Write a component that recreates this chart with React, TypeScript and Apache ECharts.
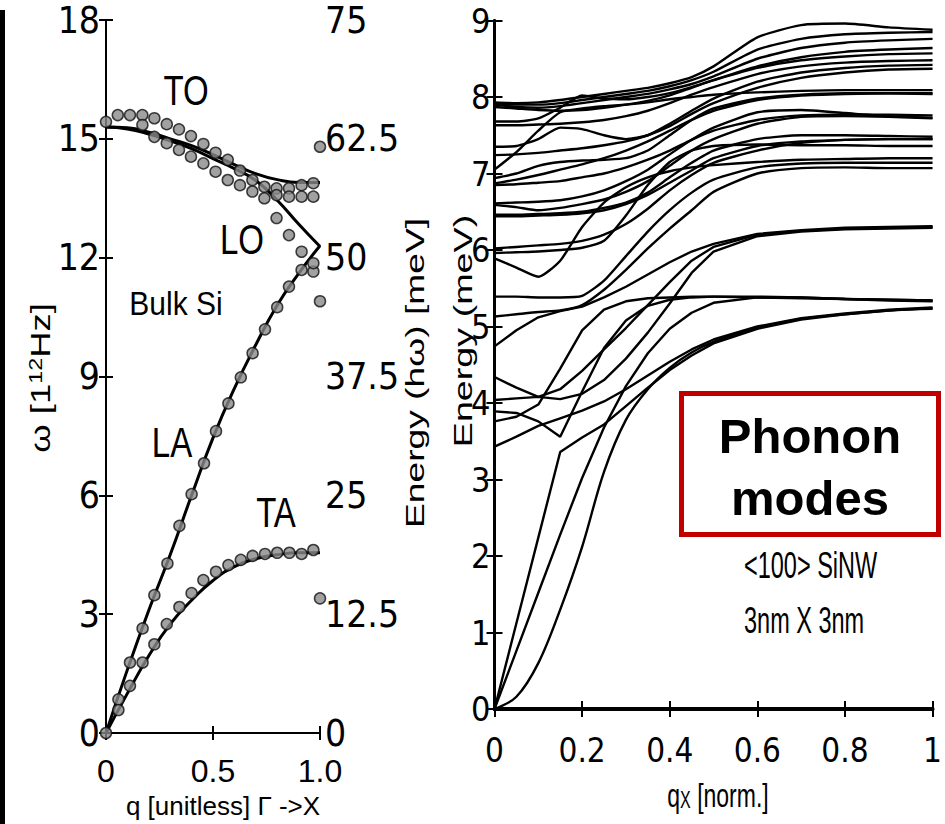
import React, { useEffect, useRef } from 'react';
import * as echarts from 'echarts';

// ---------- Left panel: bulk Si dispersion (THz) ----------
const bulkQ = [0, 0.1, 0.2, 0.3, 0.4, 0.5, 0.6, 0.7, 0.8, 0.9, 1.0];
const toLine = [15.3, 15.28, 15.17, 15.0, 14.83, 14.6, 14.35, 14.12, 13.97, 13.9, 13.9];
const loLine = [15.3, 15.25, 15.12, 14.95, 14.75, 14.5, 14.25, 13.95, 13.45, 12.85, 12.28];
const laLine = [0, 1.6, 3.1, 4.5, 6.0, 7.45, 8.7, 9.8, 10.8, 11.6, 12.3];
const taLine = [0, 1.0, 1.95, 2.75, 3.35, 3.85, 4.2, 4.4, 4.5, 4.55, 4.55];

const dotQ = [0, 0.055, 0.112, 0.17, 0.226, 0.284, 0.341, 0.397, 0.455, 0.512, 0.569, 0.626, 0.684, 0.74, 0.797, 0.855, 0.914, 0.969];
const toUpperDots = [15.43, 15.6, 15.6, 15.6, 15.52, 15.37, 15.24, 15.07, 14.87, 14.65, 14.47, 14.2, 13.96, 13.79, 13.75, 13.75, 13.83, 13.88];
const toLowerQ = [0.17, 0.226, 0.284, 0.341, 0.397, 0.455, 0.512, 0.569, 0.626, 0.684, 0.797, 0.855, 0.914, 0.969];
const toLowerDots = [15.35, 15.05, 14.89, 14.72, 14.55, 14.38, 14.17, 13.96, 13.83, 13.67, 13.58, 13.54, 13.54, 13.54];
const loTailQ = [0.74, 0.797, 0.855, 0.914, 0.969];
const loTailDots = [13.5, 13.0, 12.57, 12.15, 11.65];
const laDotQ = [0, 0.058, 0.112, 0.171, 0.226, 0.287, 0.343, 0.4, 0.458, 0.514, 0.572, 0.63, 0.685, 0.743, 0.8, 0.855, 0.914, 0.969];
const laDots = [0, 0.85, 1.78, 2.64, 3.48, 4.28, 5.23, 6.03, 6.81, 7.62, 8.32, 8.98, 9.59, 10.19, 10.75, 11.27, 11.69, 11.86];
const taDotQ = [0.058, 0.112, 0.171, 0.226, 0.284, 0.343, 0.4, 0.455, 0.514, 0.572, 0.63, 0.685, 0.743, 0.8, 0.857, 0.914, 0.969];
const taDots = [0.58, 1.19, 1.78, 2.24, 2.75, 3.18, 3.53, 3.86, 4.07, 4.24, 4.37, 4.47, 4.52, 4.55, 4.55, 4.52, 4.62];
const edgeDots = [14.8, 10.9, 3.4];

const leftXLabels = ['0', '0.5', '1.0'];

// ---------- Right panel: <100> SiNW phonon modes (meV) ----------
const qx = [0, 0.05, 0.1, 0.15, 0.2, 0.25, 0.3, 0.35, 0.4, 0.45, 0.5, 0.6, 0.7, 0.8, 0.9, 1.0];

const linearAcoustic = [
  [0, 1.12, 2.24, 3.36, 3.55, 3.72, 3.96, 4.2, 4.43, 4.62, 4.78, 4.97, 5.09, 5.16, 5.21, 5.24],
  [0, 0.76, 1.52, 2.28, 3.02, 3.68, 4.22, 4.65, 4.97, 5.18, 5.31, 5.38, 5.38, 5.36, 5.34, 5.33],
];
const flexuralMode = [0, 0.16, 0.6, 1.3, 2.12, 3.1, 3.78, 4.18, 4.46, 4.66, 4.8, 4.98, 5.1, 5.16, 5.21, 5.23];

const lowModes = [
  [3.43, 3.56, 3.7, 3.8, 3.9, 4.02, 4.18, 4.36, 4.54, 4.7, 4.83, 5.0, 5.11, 5.17, 5.22, 5.25],
  [3.76, 3.82, 3.98, 4.45, 4.95, 5.22, 5.33, 5.37, 5.38, 5.39, 5.39, 5.38, 5.37, 5.36, 5.35, 5.34],
  [3.89, 3.87, 3.76, 3.56, 4.15, 4.72, 5.08, 5.27, 5.35, 5.38, 5.39, 5.39, 5.38, 5.36, 5.35, 5.34],
  [4.04, 4.06, 4.08, 4.05, 4.12, 4.3, 4.58, 4.92, 5.3, 5.7, 5.98, 6.18, 6.24, 6.27, 6.28, 6.29],
  [4.34, 4.2, 4.08, 4.18, 4.42, 4.7, 4.98, 5.28, 5.58, 5.86, 6.04, 6.2, 6.25, 6.28, 6.29, 6.3],
  [4.74, 4.95, 5.12, 5.2, 5.26, 5.38, 5.52, 5.68, 5.84, 5.98, 6.08, 6.21, 6.26, 6.29, 6.3, 6.31],
];

const midModes = [
  [5.13, 5.16, 5.19, 5.21, 5.28, 5.48, 5.74, 6.02, 6.28, 6.52, 6.76, 7.0, 7.07, 7.08, 7.07, 7.07],
  [5.39, 5.39, 5.38, 5.38, 5.4, 5.6, 5.92, 6.24, 6.52, 6.75, 6.92, 7.08, 7.13, 7.14, 7.14, 7.14],
  [5.89, 5.77, 5.65, 5.86, 6.3, 6.62, 6.82, 6.95, 7.03, 7.08, 7.11, 7.15, 7.18, 7.19, 7.2, 7.2],
  [5.96, 5.97, 5.98, 6.0, 6.03, 6.12, 6.45, 6.85, 7.15, 7.3, 7.36, 7.38, 7.37, 7.37, 7.36, 7.36],
  [6.02, 6.04, 6.06, 6.08, 6.12, 6.2, 6.34, 6.54, 6.78, 6.98, 7.14, 7.3, 7.4, 7.44, 7.45, 7.45],
  [6.44, 6.44, 6.45, 6.46, 6.48, 6.52, 6.6, 6.72, 6.88, 7.04, 7.2, 7.36, 7.42, 7.44, 7.45, 7.45],
];

const highModes = [
  [6.46, 6.46, 6.47, 6.48, 6.5, 6.55, 6.62, 6.75, 6.95, 7.14, 7.3, 7.45, 7.5, 7.5, 7.49, 7.48],
  [6.59, 6.56, 6.52, 6.55, 6.6, 6.66, 6.76, 6.9, 7.1, 7.3, 7.45, 7.65, 7.74, 7.75, 7.74, 7.72],
  [6.61, 6.62, 6.63, 6.65, 6.7, 6.78, 6.9, 7.05, 7.25, 7.44, 7.6, 7.8, 7.83, 7.79, 7.75, 7.73],
  [6.85, 6.86, 6.88, 6.9, 6.95, 7.0, 7.08, 7.18, 7.3, 7.44, 7.56, 7.7, 7.76, 7.77, 7.77, 7.76],
  [6.87, 6.92, 6.98, 7.05, 7.12, 7.2, 7.3, 7.42, 7.56, 7.7, 7.82, 7.96, 8.02, 8.04, 8.05, 8.04],
  [6.94, 7.0, 7.1, 7.15, 7.17, 7.18, 7.2, 7.3, 7.5, 7.7, 7.85, 7.98, 8.03, 8.05, 8.05, 8.05],
  [7.05, 7.28, 7.56, 7.8, 7.85, 7.88, 7.9, 7.93, 7.97, 8.0, 8.03, 8.06, 8.08, 8.09, 8.09, 8.09],
  [7.24, 7.25, 7.27, 7.3, 7.33, 7.37, 7.42, 7.5, 7.62, 7.78, 7.92, 8.12, 8.25, 8.32, 8.36, 8.37],
  [7.35, 7.36, 7.45, 7.6, 7.58, 7.5, 7.45, 7.5, 7.65, 7.82, 7.98, 8.2, 8.32, 8.38, 8.41, 8.42],
  [7.63, 7.63, 7.64, 7.65, 7.67, 7.7, 7.75, 7.82, 7.92, 8.03, 8.13, 8.3, 8.4, 8.45, 8.47, 8.48],
  [7.68, 7.68, 7.72, 7.86, 8.02, 7.98, 7.97, 8.0, 8.05, 8.13, 8.22, 8.38, 8.48, 8.53, 8.56, 8.57],
  [7.87, 7.85, 7.83, 7.82, 7.83, 7.86, 7.9, 7.95, 8.02, 8.12, 8.22, 8.4, 8.52, 8.59, 8.62, 8.64],
  [7.9, 7.87, 7.86, 7.88, 7.92, 7.96, 8.0, 8.04, 8.1, 8.17, 8.27, 8.5, 8.64, 8.71, 8.74, 8.76],
  [7.92, 7.9, 7.9, 7.92, 7.96, 8.0, 8.04, 8.08, 8.14, 8.22, 8.33, 8.62, 8.76, 8.82, 8.84, 8.85],
  [7.93, 7.92, 7.93, 7.96, 8.0, 8.04, 8.08, 8.12, 8.18, 8.26, 8.4, 8.78, 8.94, 8.96, 8.91, 8.88],
];

const SANS = "'Liberation Sans', Arial, Helvetica, sans-serif";
const NARROW = "'Liberation Sans Narrow', 'DejaVu Sans Condensed', 'Liberation Sans', Arial, sans-serif";

const zip = (xs: number[], ys: number[]) => xs.map((x, i) => [x, ys[i]]);

function txt(text: string, x: number, y: number, size: number, opts: any = {}) {
  return {
    type: 'text',
    x,
    y,
    rotation: opts.rotation || 0,
    scaleX: opts.scaleX || 1,
    scaleY: opts.scaleY || 1,
    z: 10,
    silent: true,
    style: {
      text,
      fill: opts.fill || '#000',
      fontSize: size,
      fontFamily: opts.family || SANS,
      fontWeight: opts.weight || 'normal',
      align: opts.align || 'center',
      textAlign: opts.align || 'center',
      verticalAlign: opts.valign || 'middle',
      textVerticalAlign: opts.valign || 'middle',
      rich: opts.rich,
    },
  };
}

export default function App() {
  const ref = useRef<HTMLDivElement>(null);

  useEffect(() => {
    if (!ref.current) return;
    const chart = echarts.init(ref.current, null, { renderer: 'svg' });

    const dotStyle = { color: '#8a8a8a', borderColor: '#111', borderWidth: 1.5 };
    const bulkLine = (ys: number[]) => ({
      type: 'line', xAxisIndex: 0, yAxisIndex: 0, data: zip(bulkQ, ys),
      showSymbol: false, symbol: 'none', smooth: true, silent: true, z: 2,
      lineStyle: { color: '#000', width: 3 },
    });
    const bulkDots = (xs: number[], ys: number[]) => ({
      type: 'scatter', xAxisIndex: 0, yAxisIndex: 0, data: zip(xs, ys),
      symbol: 'circle', symbolSize: 11, itemStyle: dotStyle, silent: true, z: 3, clip: false,
    });

    const modeLine = (ys: number[], smooth: number | boolean) => ({
      type: 'line', xAxisIndex: 2, yAxisIndex: 2, data: zip(qx, ys),
      showSymbol: false, symbol: 'none', smooth, silent: true, z: 2,
      lineStyle: { color: '#000', width: 2.4 },
    });
    const modeSeries = [
      ...linearAcoustic.map((ys) => modeLine(ys, false)),
      modeLine(flexuralMode, 0.35),
      ...lowModes.map((ys) => modeLine(ys, false)),
      ...midModes.map((ys) => modeLine(ys, 0.2)),
      ...highModes.map((ys) => modeLine(ys, 0.2)),
    ];

    const axisLineL = { show: true, lineStyle: { color: '#000', width: 2 } };
    const axisLineR = { show: true, lineStyle: { color: '#000', width: 3 } };
    const tickL = { show: true, inside: true, length: 7, lineStyle: { color: '#000', width: 2 } };
    const tickR = { show: true, inside: true, length: 8, lineStyle: { color: '#000', width: 2 } };

    chart.setOption({
      animation: false,
      backgroundColor: '#fff',
      grid: [
        { left: 106, top: 20, width: 214, height: 713 },
        { left: 494.5, top: 20.5, width: 447, height: 688.5 },
      ],
      xAxis: [
        {
          gridIndex: 0, type: 'value', min: 0, max: 1, interval: 0.5, position: 'bottom',
          axisLine: axisLineL, axisTick: tickL, splitLine: { show: false },
          axisLabel: {
            color: '#000', fontSize: 32, fontFamily: SANS, margin: 22,
            formatter: (v: number) => leftXLabels[Math.round(v / 0.5)],
          },
        },
        {
          gridIndex: 0, type: 'value', min: 0, max: 1, interval: 0.5, position: 'top',
          axisLine: axisLineL, axisTick: tickL, splitLine: { show: false }, axisLabel: { show: false },
        },
        {
          gridIndex: 1, type: 'value', min: 0, max: 1, interval: 0.2, position: 'bottom',
          axisLine: { show: true, lineStyle: { color: '#000', width: 4 } }, axisTick: tickR, splitLine: { show: false },
          axisLabel: { color: '#000', fontSize: 33, fontFamily: NARROW, margin: 25 },
        },
        {
          gridIndex: 1, type: 'value', min: 0, max: 1, interval: 0.2, position: 'top',
          axisLine: axisLineR, axisTick: tickR, splitLine: { show: false }, axisLabel: { show: false },
        },
      ],
      yAxis: [
        {
          gridIndex: 0, type: 'value', min: 0, max: 18, interval: 3, position: 'left',
          axisLine: axisLineL, axisTick: tickL, splitLine: { show: false },
          axisLabel: { color: '#000', fontSize: 37, fontFamily: NARROW, margin: 6, padding: [12, 0, 0, 0] },
        },
        {
          gridIndex: 0, type: 'value', min: 0, max: 75, interval: 12.5, position: 'right',
          axisLine: axisLineL, axisTick: tickL, splitLine: { show: false },
          axisLabel: { color: '#000', fontSize: 37, fontFamily: NARROW, margin: 5, padding: [12, 0, 0, 0] },
        },
        {
          gridIndex: 1, type: 'value', min: 0, max: 9, interval: 1, position: 'left',
          axisLine: axisLineR, axisTick: tickR, splitLine: { show: false },
          axisLabel: { color: '#000', fontSize: 34, fontFamily: NARROW, margin: 4, padding: [12, 0, 0, 0] },
        },
        {
          gridIndex: 1, type: 'value', min: 0, max: 9, interval: 1, position: 'right',
          axisLine: axisLineR, axisTick: tickR, splitLine: { show: false }, axisLabel: { show: false },
        },
      ],
      series: [
        bulkLine(toLine),
        bulkLine(loLine),
        bulkLine(laLine),
        bulkLine(taLine),
        bulkDots(dotQ, toUpperDots),
        bulkDots(toLowerQ, toLowerDots),
        bulkDots(loTailQ, loTailDots),
        bulkDots(laDotQ, laDots),
        bulkDots(taDotQ, taDots),
        bulkDots(edgeDots.map(() => 1), edgeDots),
        ...modeSeries,
      ],
      graphic: [
        { type: 'rect', shape: { x: 0, y: 10, width: 5, height: 814 }, style: { fill: '#000' }, silent: true },
        txt('TO', 186, 91, 33, { scaleY: 1.28 }),
        txt('LO', 242, 240, 33, { scaleY: 1.28 }),
        txt('Bulk Si', 176, 303, 30, { scaleY: 1.1 }),
        txt('LA', 172, 443, 33, { scaleY: 1.28 }),
        txt('TA', 276, 513, 33, { scaleY: 1.28 }),
        txt('{a|ω [1}{b|12}{a|Hz]}', 41, 378, 28, {
          rotation: Math.PI / 2, scaleX: 1.3,
          rich: {
            a: { fontSize: 28, fontFamily: SANS, fill: '#000' },
            b: { fontSize: 18, fontFamily: SANS, fill: '#000', verticalAlign: 'top' },
          },
        }),
        txt('q [unitless] Γ ->X', 223, 793, 26, { valign: 'top' }),
        txt('Energy (hω) [meV]', 415, 373, 26, { rotation: Math.PI / 2, scaleX: 1.43 }),
        txt('Energy (meV)', 463, 331, 26, { rotation: Math.PI / 2, scaleX: 1.45 }),
        txt('{a|q}{b|X}{a| [norm.]}', 718, 795, 23, {
          scaleY: 1.45,
          rich: {
            a: { fontSize: 23, fontFamily: SANS, fill: '#000' },
            b: { fontSize: 16, fontFamily: SANS, fill: '#000', verticalAlign: 'bottom' },
          },
        }),
        txt('<100> SiNW', 744, 565, 23.5, { align: 'left', scaleY: 1.55 }),
        txt('3nm X 3nm', 744, 620, 23.5, { align: 'left', scaleY: 1.55 }),
        {
          type: 'rect', z: 10, silent: true,
          shape: { x: 681.5, y: 393.5, width: 257, height: 141 },
          style: { fill: 'transparent', stroke: '#c00000', lineWidth: 5 },
        },
        txt('Phonon', 810, 436, 49, { weight: 'bold' }),
        txt('modes', 810, 498, 49, { weight: 'bold' }),
      ],
    });

    return () => chart.dispose();
  }, []);

  return (
    <div
      ref={ref}
      style={{ position: 'absolute', left: 0, top: 0, width: 945, height: 824, background: '#fff' }}
    />
  );
}
